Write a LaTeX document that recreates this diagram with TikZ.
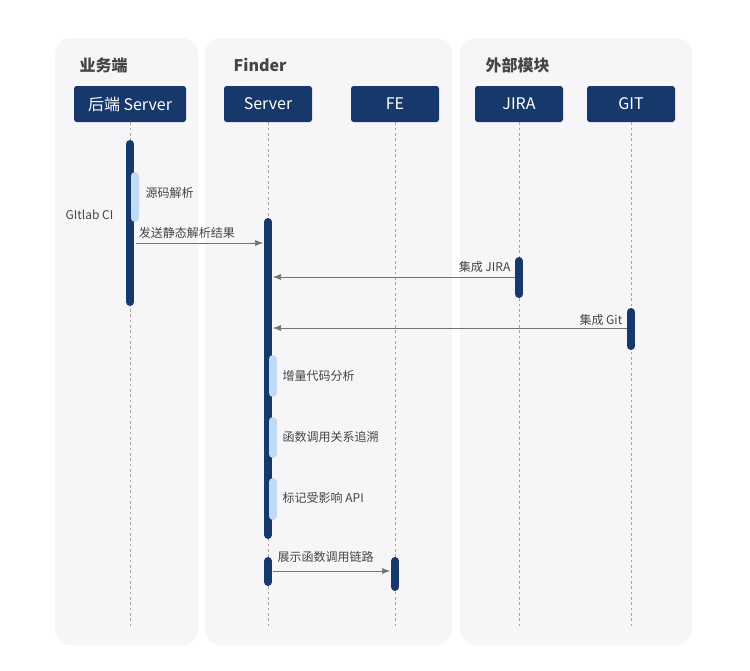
\documentclass[tikz,border=0pt]{standalone}
\usepackage{fontspec}
\setmainfont{Noto Sans CJK SC}
\usetikzlibrary{positioning,arrows.meta}
\definecolor{navy}{HTML}{17386B}
\definecolor{barlight}{HTML}{BFDBF7}
\definecolor{panelbg}{HTML}{F6F6F8}
\definecolor{txtgray}{HTML}{444444}
\tikzset{
    panel/.style={fill=panelbg, draw=none, rounded corners=12pt},
    title/.style={font=\bfseries\fontsize{12}{14}\selectfont, text=txtgray},
    head/.style={fill=navy, text=white, rounded corners=2pt, minimum width=66pt, minimum height=27pt, font=\fontsize{12}{14}\selectfont},
    life/.style={draw=gray!70, dashed, dash pattern=on 2pt off 2pt},
    bar/.style={line width=6pt, navy, line cap=round},
    subbar/.style={line width=6pt, barlight, line cap=round},
    msg/.style={draw=gray!90!black, -{Latex[length=6pt]}},
    lbl/.style={font=\fontsize{9}{11}\selectfont, text=txtgray}
}
\begin{document}
\begin{tikzpicture}[x=0.75pt,y=-0.75pt]
        \useasboundingbox[fill=white] (0,0) rectangle (750,671);
        % panels
        \fill[panel] (55,38) rectangle (198,645);
        \fill[panel] (205,38) rectangle (452,645);
        \fill[panel] (460,38) rectangle (692,645);
        \node[title, anchor=west] at (75,65) {业务端};
        \node[title, anchor=west] at (229,65) {Finder};
        \node[title, anchor=west] at (481,65) {外部模块};

        % heads and lifelines
        \node[head, minimum width=84pt] (backend) at (130,104) {后端 Server};
        \node[head] (server) at (268,104) {Server};
        \node[head] (fe) at (395,104) {FE};
        \node[head] (jira) at (519,104) {JIRA};
        \node[head] (git) at (631,104) {GIT};
        \foreach \n in {backend,server,fe,jira,git}
            \draw[life] (\n.south) -- (\n.south |- 0,628);

        % activation bars
        \draw[bar] (130,144) -- (130,302);
        \draw[subbar] (134.5,176) -- (134.5,218);
        \draw[bar] (268,222) -- (268,535);
        \draw[subbar] (272.5,359) -- (272.5,393);
        \draw[subbar] (272.5,421) -- (272.5,454);
        \draw[subbar] (272.5,482) -- (272.5,516);
        \draw[bar] (268,561) -- (268,582);
        \draw[bar] (395,561) -- (395,587);
        \draw[bar] (519,261) -- (519,294);
        \draw[bar] (631,312) -- (631,346);

        % labels
        \node[lbl, font=\itshape\fontsize{9}{11}\selectfont, anchor=east] (ci) at (118,215) {GItlab CI};
        \node[lbl, anchor=west] (parse) at (141,193) {源码解析};
        \node[lbl, anchor=west] (diff) at (278,376) {增量代码分析};
        \node[lbl, anchor=west] (trace) at (278,437) {函数调用关系追溯};
        \node[lbl, anchor=west] (mark) at (278,498) {标记受影响 API};

        % messages
        \coordinate (m1s) at (136,243); \coordinate (m1e) at (263,243);
        \draw[msg] (m1s) -- node[lbl, above, pos=0.4] {发送静态解析结果} (m1e);
        \coordinate (m2s) at (515,277); \coordinate (m2e) at (273,277);
        \draw[msg] (m2s) -- (m2e);
        \node[lbl, anchor=south east] at (m2s) {集成 JIRA};
        \coordinate (m3s) at (627,328); \coordinate (m3e) at (273,328);
        \draw[msg] (m3s) -- (m3e);
        \node[lbl, anchor=south east] at ([yshift=-2pt]m3s) {集成 Git};
        \coordinate (m4s) at (273,571); \coordinate (m4e) at (390,571);
        \draw[msg] (m4s) -- node[lbl, above, pos=0.45, yshift=3pt] {展示函数调用链路} (m4e);
    \end{tikzpicture}
\end{document}
